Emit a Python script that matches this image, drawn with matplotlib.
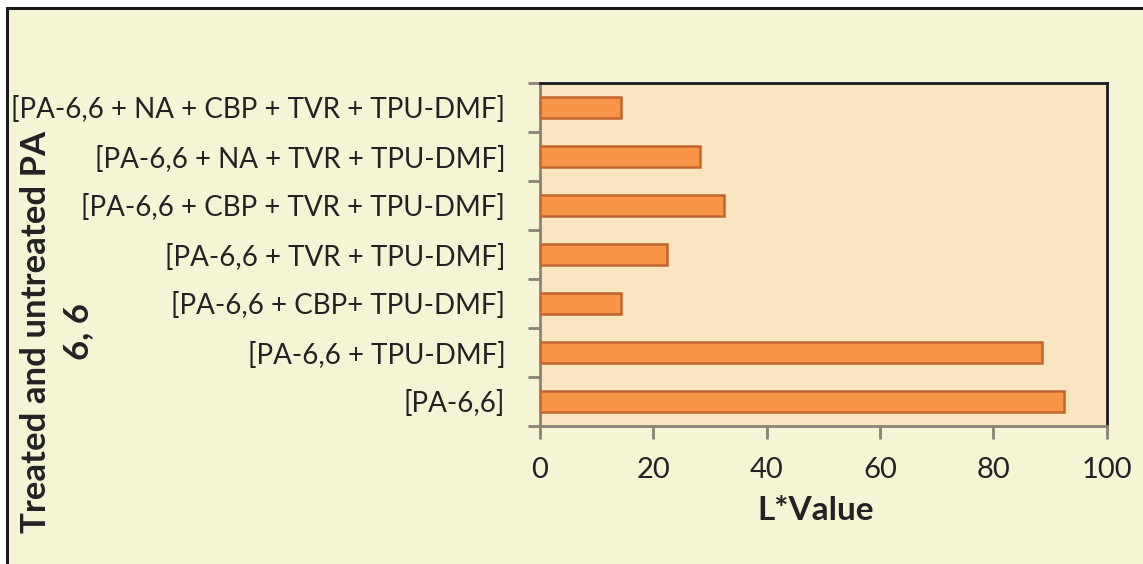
import matplotlib
matplotlib.use("Agg")
import matplotlib.pyplot as plt
from matplotlib.patches import Rectangle

categories = [
    "[PA-6,6]",
    "[PA-6,6 + TPU-DMF]",
    "[PA-6,6 + CBP+ TPU-DMF]",
    "[PA-6,6 + TVR + TPU-DMF]",
    "[PA-6,6 + CBP + TVR + TPU-DMF]",
    "[PA-6,6 + NA + TVR + TPU-DMF]",
    "[PA-6,6 + NA + CBP + TVR + TPU-DMF]",
]
values = [92.5, 88.6, 14.3, 22.4, 32.4, 28.3, 14.3]
x_ticks = [0, 20, 40, 60, 80, 100]

W, H = 1143, 564
fig = plt.figure(figsize=(W / 100, H / 100), dpi=100)
fig.patch.set_facecolor("white")

# chart area background with border (background axes)
bg = fig.add_axes([0, 0, 1, 1], zorder=-10)
bg.set_xlim(0, W)
bg.set_ylim(H, 0)
bg.axis("off")
bg.add_patch(Rectangle((7, 8), W + 20, H + 20, facecolor="#F5F5D6",
                       edgecolor="#1a1a1a", linewidth=2.2))

ax = fig.add_axes([540 / W, 1 - 426 / H, (1106.5 - 540) / W, (426 - 83) / H])
ax.set_facecolor("#FBE5C1")

ypos = list(range(len(categories)))
ax.barh(ypos, values, height=0.43, color="#F79446", edgecolor="#C3652F",
        linewidth=1.8, zorder=3)

FONT = "Lato"
ax.set_xlim(0, 100)
ax.set_ylim(-0.5, len(categories) - 0.5)
ax.set_xticks(x_ticks)
ax.set_xticklabels([str(t) for t in x_ticks], fontsize=21, family=FONT, color="#222222")
ax.set_yticks(ypos)
ax.set_yticklabels(categories, fontsize=20, family=FONT, color="#222222")
ax.tick_params(axis="y", which="major", length=0, pad=25)
ax.set_yticks([i - 0.5 for i in range(len(categories) + 1)], minor=True)
ax.tick_params(axis="y", which="minor", length=9, width=2, color="#8A8272", direction="out")
ax.tick_params(axis="x", which="major", length=9, width=2, color="#8A8272", direction="out", pad=13)

for s in ["left", "bottom"]:
    ax.spines[s].set_color("#8A8272")
    ax.spines[s].set_linewidth(2)
for s in ["top", "right"]:
    ax.spines[s].set_color("#1a1a1a")
    ax.spines[s].set_linewidth(2)

ax.set_xlabel("L*Value", fontsize=24, fontweight="bold", family=FONT,
              color="#222222", labelpad=10)
ax.xaxis.set_label_coords(0.487, -0.205)

fig.text(57 / W, 1 - 332 / H, "Treated and untreated PA\n6, 6", rotation=90,
         ha="center", va="center", fontsize=25, fontweight="bold",
         family=FONT, color="#222222", linespacing=1.35)

fig.savefig("out.png", dpi=100, facecolor=fig.get_facecolor())
